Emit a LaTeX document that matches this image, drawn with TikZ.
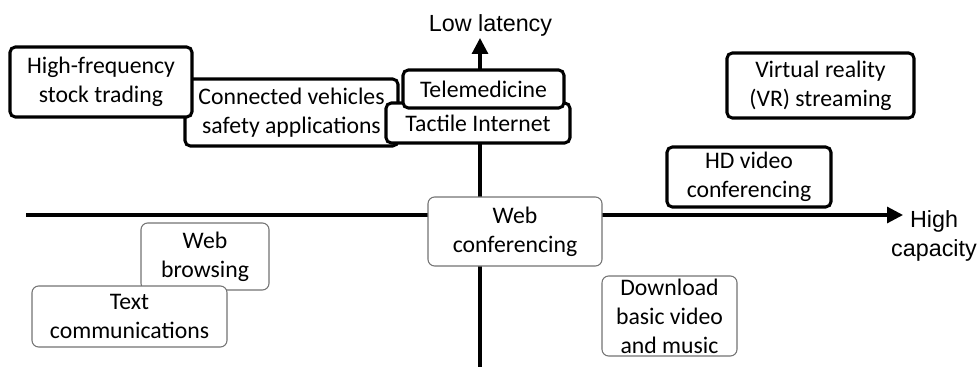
\documentclass[tikz,border=0pt]{standalone}
\usepackage{fontspec}
\setmainfont{Carlito}
\newfontfamily\axisfont{Liberation Sans}
\usetikzlibrary{arrows.meta}
\tikzset{
  thickbox/.style={draw=black, line width=2.3pt, rounded corners=4pt, fill=white, align=center,
    inner sep=0pt, font=\fontsize{17.8pt}{21.8pt}\selectfont},
  thinbox/.style={draw=black!55, line width=0.8pt, rounded corners=5pt, fill=white, align=center,
    inner sep=0pt, font=\fontsize{17.8pt}{21.8pt}\selectfont},
  axis/.style={line width=2.3pt, -{Triangle[length=12pt,width=12pt]}},
  axislabel/.style={font=\axisfont\fontsize{17.5pt}{21.5pt}\selectfont, inner sep=0pt, align=center}
}
\begin{document}
\begin{tikzpicture}[x=0.75pt,y=-0.75pt]
\useasboundingbox (0,0) rectangle (980,367);
% axes
\coordinate (vbot) at (480,367);
\coordinate (vtop) at (480,38);
\coordinate (hleft) at (26,215);
\coordinate (hright) at (903,215);
\draw[axis] (vbot) -- (vtop);
\draw[axis] (hleft) -- (hright);
\node[axislabel, anchor=base] (lowlat) at (490.5,32) {Low latency};
\node[axislabel] (highcap) at (934,236) {High\\capacity};
% boxes
\node[thickbox, minimum width=159.75pt, minimum height=50.25pt] (conn) at (291.5,112.5) {Connected vehicles\\safety applications};
\node[thickbox, minimum width=136.5pt, minimum height=52.5pt] (hft) at (101,82) {High-frequency\\stock trading};
\node[thickbox, minimum width=138pt, minimum height=30pt] (tact) at (478,123) {Tactile Internet};
\node[thickbox, minimum width=120.75pt, minimum height=28.5pt] (tele) at (483.5,89) {Telemedicine};
\node[thickbox, minimum width=140.25pt, minimum height=48.75pt] (vr) at (820.5,85.5) {Virtual reality\\(VR) streaming};
\node[thickbox, minimum width=123pt, minimum height=45pt] (hd) at (749,177) {HD video\\conferencing};
\node[thinbox, minimum width=130.5pt, minimum height=51.75pt] (webconf) at (515,231.5) {Web\\conferencing};
\node[thinbox, minimum width=96pt, minimum height=50.25pt] (webbr) at (205,256.5) {Web\\browsing};
\node[thinbox, minimum width=146.25pt, minimum height=45.75pt] (textc) at (129.5,316.5) {Text\\communications};
\node[thinbox, minimum width=101.25pt, minimum height=60pt] (down) at (669.5,316) {Download\\basic video\\and music};
\end{tikzpicture}
\end{document}
